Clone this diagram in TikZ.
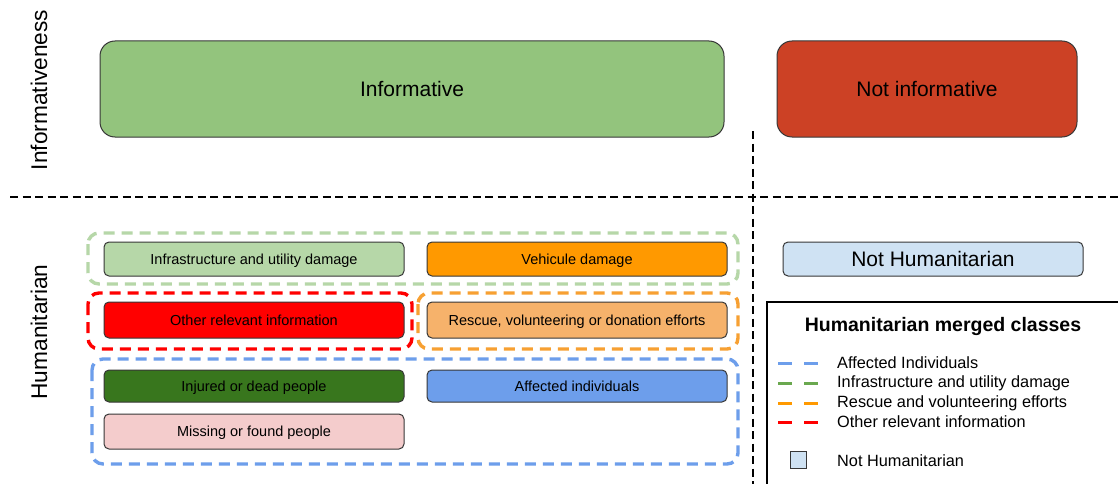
\documentclass[tikz,border=0pt]{standalone}
\usepackage{fontspec}
\setmainfont{Liberation Sans}
\usetikzlibrary{positioning}
\usepackage{xcolor}
\definecolor{infogreen}{RGB}{147,196,125}
\definecolor{notinfored}{RGB}{204,65,37}
\definecolor{infragreen}{RGB}{182,215,168}
\definecolor{vehorange}{RGB}{255,153,0}
\definecolor{otherred}{RGB}{255,0,0}
\definecolor{rescueorange}{RGB}{246,178,107}
\definecolor{injuredgreen}{RGB}{56,118,29}
\definecolor{affectedblue}{RGB}{109,158,235}
\definecolor{missingpink}{RGB}{244,204,204}
\definecolor{nothumblue}{RGB}{207,226,243}
\definecolor{boxedge}{RGB}{55,55,55}
\definecolor{legendgreen}{RGB}{106,168,79}
\definecolor{grouporange}{RGB}{247,160,50}

\begin{document}
\begin{tikzpicture}[x=1pt,y=-1pt,
  bigbox/.style={draw=boxedge,line width=1pt,rounded corners=15pt,inner sep=0pt,
    minimum height=96pt,text depth=0pt,font=\fontsize{21}{25}\selectfont},
  classbox/.style={draw=boxedge,line width=1pt,rounded corners=5pt,inner sep=0pt,
    minimum width=300pt,text depth=0pt,font=\fontsize{14.5}{17}\selectfont},
  groupline/.style={line width=3.4pt,rounded corners=11pt,dash pattern=on 11pt off 7pt},
  divider/.style={line width=2.4pt,dash pattern=on 8pt off 4.5pt},
  legdash/.style={line width=3pt,dash pattern=on 14pt off 12pt},
  legtext/.style={anchor=west,inner sep=0pt,font=\fontsize{16.3}{19}\selectfont},
  axislabel/.style={rotate=90,inner sep=0pt,font=\fontsize{22.7}{26}\selectfont}]
\clip (0,0) rectangle (1118,484);
\fill[white] (0,0) rectangle (1118,484);
% axis labels
\node[axislabel] (informativeness) at (39,90) {Informativeness};
\node[axislabel] (humanitarian) at (39,332) {Humanitarian};
% informativeness row
\node[bigbox,fill=infogreen,minimum width=624pt] (informative) at (412,89) {Informative};
\node[bigbox,fill=notinfored,minimum width=300pt] (notinformative) at (927,89) {Not informative};
% dividers
\draw[divider] (10,197) -- (1118,197);
\draw[divider] (753,131) -- (753,484);
% merged groups
\draw[groupline,draw=infragreen] (88,233) rectangle (738,284);
\draw[groupline,draw=otherred] (88,293) rectangle (412,349);
\draw[groupline,draw=grouporange] (418,293) rectangle (738,349);
\draw[groupline,draw=affectedblue] (92,359) rectangle (738,464);
% humanitarian classes
\node[classbox,fill=infragreen,minimum height=34pt] (infra) at (254,259) {Infrastructure and utility damage};
\node[classbox,fill=vehorange,minimum height=34pt] (vehicle) at (577,259) {Vehicule damage};
\node[classbox,fill=otherred,minimum height=36pt] (other) at (254,320) {Other relevant information};
\node[classbox,fill=rescueorange,minimum height=36pt] (rescue) at (577,320) {Rescue, volunteering or donation efforts};
\node[classbox,fill=injuredgreen,minimum height=32pt] (injured) at (254,386) {Injured or dead people};
\node[classbox,fill=affectedblue,minimum height=32pt] (affected) at (577,386) {Affected individuals};
\node[classbox,fill=missingpink,minimum height=35pt] (missing) at (254,431.5) {Missing or found people};
\node[classbox,fill=nothumblue,minimum height=34pt,font=\fontsize{21}{25}\selectfont] (nothum) at (933,259) {Not Humanitarian};
% legend
\draw[line width=1.2pt] (767,302) rectangle (1130,495);
\node[font=\fontsize{19.5}{23}\selectfont\bfseries,text depth=0pt,inner sep=0pt] (legtitle) at (943,324) {Humanitarian merged classes};
\draw[legdash,draw=affectedblue] (778,363) -- (818,363);
\node[legtext] (legaffected) at (837,363) {Affected Individuals};
\draw[legdash,draw=legendgreen] (778,383) -- (818,383);
\node[legtext] (leginfra) at (837,383) {Infrastructure and utility damage};
\draw[legdash,draw=vehorange] (778,403) -- (818,403);
\node[legtext] (legrescue) at (837,403) {Rescue and volunteering efforts};
\draw[legdash,draw=otherred] (778,422) -- (818,422);
\node[legtext] (legother) at (837,422) {Other relevant information};
\draw[draw=boxedge,fill=nothumblue,line width=1pt] (790,451) rectangle (806,468);
\node[legtext] (legnothum) at (837,461) {Not Humanitarian};
\end{tikzpicture}
\end{document}
